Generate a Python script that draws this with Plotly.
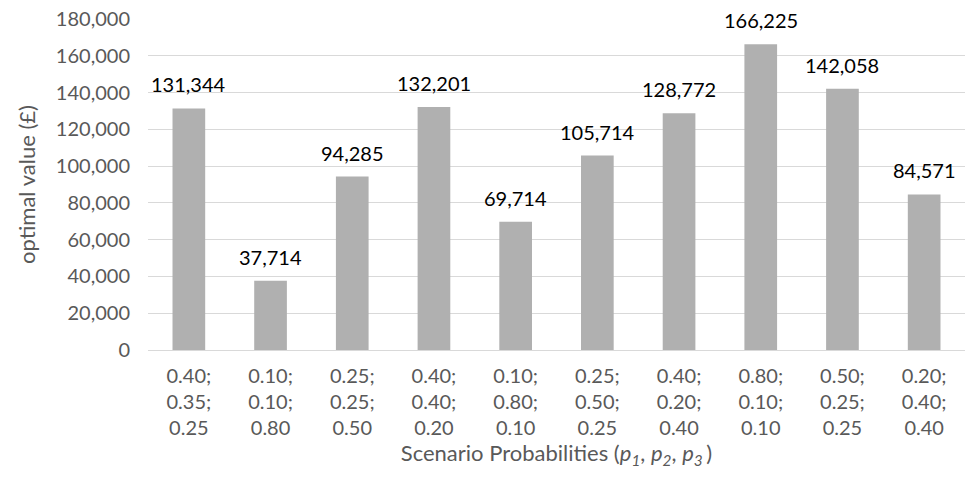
import plotly.graph_objects as go

# Scenario probability triples (p1; p2; p3) and the optimal value for each
scenarios = [
    "0.40;<br>0.35;<br>0.25",
    "0.10;<br>0.10;<br>0.80",
    "0.25;<br>0.25;<br>0.50",
    "0.40;<br>0.40;<br>0.20",
    "0.10;<br>0.80;<br>0.10",
    "0.25;<br>0.50;<br>0.25",
    "0.40;<br>0.20;<br>0.40",
    "0.80;<br>0.10;<br>0.10",
    "0.50;<br>0.25;<br>0.25",
    "0.20;<br>0.40;<br>0.40",
]
optimal_values = [131344, 37714, 94285, 132201, 69714, 105714, 128772, 166225, 142058, 84571]

y_ticks = list(range(0, 180001, 20000))
y_tick_text = [f"{v:,}" for v in y_ticks]

FONT = "Lato, 'Open Sans', sans-serif"
GREY_TEXT = "#595959"

fig = go.Figure(
    go.Bar(
        x=scenarios,
        y=optimal_values,
        marker=dict(color="#b0b0b0", line=dict(width=0)),
        hoverinfo="skip",
    )
)

# value labels above each bar
for cat, val in zip(scenarios, optimal_values):
    fig.add_annotation(
        x=cat, y=val, text=f"{val:,}", showarrow=False,
        yanchor="bottom", yshift=10,
        font=dict(family=FONT, size=20, color="#000000"),
    )

fig.update_layout(
    width=965, height=479,
    margin=dict(l=148, r=0, t=19, b=129),
    paper_bgcolor="white", plot_bgcolor="white",
    bargap=0.6,
    showlegend=False,
    font=dict(family=FONT, color=GREY_TEXT),
    xaxis=dict(
        tickfont=dict(size=20, color=GREY_TEXT),
        showgrid=False, ticks="", showline=False,
        ticklabelstandoff=12,
        title=dict(
            text="Scenario Probabilities (<i>p<sub>1</sub></i>, <i>p<sub>2</sub></i>, <i>p<sub>3 </sub></i>)",
            font=dict(size=22, color=GREY_TEXT), standoff=3,
        ),
    ),
    yaxis=dict(
        range=[0, 180000],
        tickvals=y_ticks, ticktext=y_tick_text,
        tickfont=dict(size=20, color=GREY_TEXT),
        showgrid=True, gridcolor="#d9d9d9", gridwidth=1,
        zeroline=True, zerolinecolor="#d9d9d9", zerolinewidth=1,
        ticks="", ticklabelstandoff=17,
        title=dict(text="optimal value (£)", font=dict(size=22, color=GREY_TEXT), standoff=14),
    ),
)

fig.write_html("out.html")
